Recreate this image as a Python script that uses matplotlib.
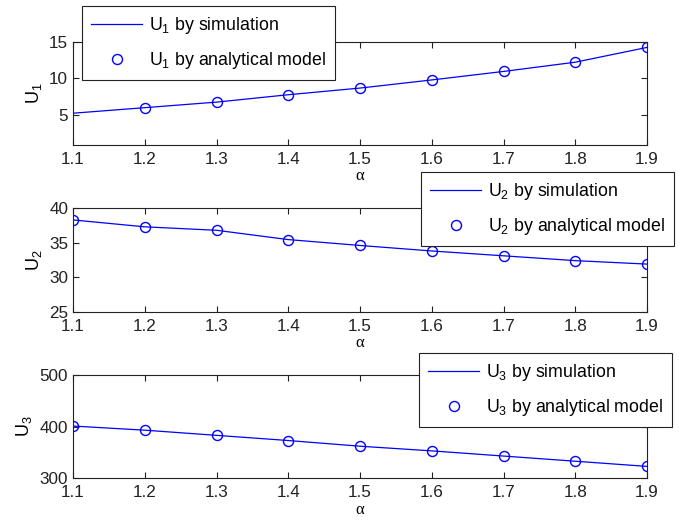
import matplotlib
matplotlib.use("Agg")
import matplotlib.pyplot as plt

plt.rcParams['font.family'] = ['Liberation Sans', 'DejaVu Sans']
plt.rcParams['mathtext.fontset'] = 'custom'
plt.rcParams['mathtext.rm'] = 'Liberation Sans'
plt.rcParams['mathtext.default'] = 'regular'

# data
alpha = [1.1, 1.2, 1.3, 1.4, 1.5, 1.6, 1.7, 1.8, 1.9]
u1_sim = [5.3, 6.05, 6.8, 7.8, 8.7, 9.8, 10.95, 12.2, 14.2]
u1_ana_alpha = [1.2, 1.3, 1.4, 1.5, 1.6, 1.7, 1.8, 1.9]
u1_ana = [6.05, 6.8, 7.8, 8.7, 9.8, 10.95, 12.2, 14.2]
u2_sim = [38.3, 37.3, 36.8, 35.45, 34.6, 33.8, 33.1, 32.4, 31.9]
u2_ana = [38.3, 37.3, 36.8, 35.45, 34.6, 33.8, 33.1, 32.4, 31.9]
u3_sim = [401, 393, 383, 373, 362, 353, 343, 333, 323]
u3_ana = [401, 393, 383, 373, 362, 353, 343, 333, 323]

W, H = 679, 521
fig = plt.figure(figsize=(W / 100, H / 100), dpi=100)

panels = [
    # (bottom px, x sim, y sim, x ana, y ana, ylim, yticks, idx, legend upper-left px)
    (145, alpha, u1_sim, u1_ana_alpha, u1_ana, (1, 15), [5, 10, 15], 1, (82, 6)),
    (311.7, alpha, u2_sim, alpha, u2_ana, (25, 40), [25, 30, 35, 40], 2, (421, 172)),
    (478.3, alpha, u3_sim, alpha, u3_ana, (300, 500), [300, 400, 500], 3, (419, 353)),
]

blue = '#0000ff'
for bot, xs, ys, xa, ya, ylim, yt, i, lg in panels:
    ax = fig.add_axes([73 / W, 1 - bot / H, 574 / W, 103.5 / H])
    ax.plot(xs, ys, color=blue, lw=0.9, label='U$_%d$ by simulation' % i)
    ax.plot(xa, ya, 'o', mfc='none', mec=blue, ms=7.2, mew=1.0,
            label='U$_%d$ by analytical model' % i)
    ax.set_xlim(1.1, 1.9)
    ax.set_ylim(*ylim)
    ax.set_xticks(alpha)
    ax.set_xticklabels(['%.1f' % a for a in alpha])
    ax.set_yticks(yt)
    ax.tick_params(direction='in', top=True, right=True, labelsize=12.3,
                   length=4, width=0.8, colors='#222222')
    ax.tick_params(axis='x', pad=5)
    for s in ax.spines.values():
        s.set_linewidth(0.8)
        s.set_color('#222222')
    ax.set_xlabel('α', family=['Liberation Serif', 'DejaVu Serif'], fontsize=12, labelpad=1)
    ax.set_ylabel('U$_%d$' % i, fontsize=13, labelpad=4)
    leg = ax.legend(loc='upper left', bbox_to_anchor=(lg[0] / W, 1 - lg[1] / H),
                    bbox_transform=fig.transFigure, borderaxespad=0,
                    fontsize=12.8, handlelength=2.9, handletextpad=0.35,
                    labelspacing=0.8, borderpad=0.5, fancybox=False,
                    framealpha=1)
    leg.get_frame().set_edgecolor('#222222')
    leg.get_frame().set_linewidth(0.8)

fig.savefig('out.png', dpi=100)
